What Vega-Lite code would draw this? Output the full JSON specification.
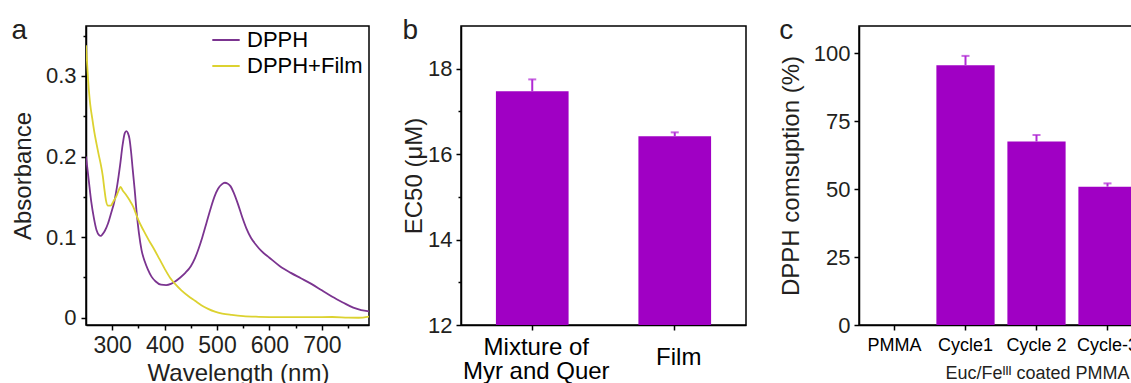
{
  "$schema": "https://vega.github.io/schema/vega-lite/v6.json",
  "padding": {"left": 10, "top": 16, "right": 0, "bottom": 0},
  "spacing": 31,
  "config": {
    "font": "Liberation Sans",
    "view": {"stroke": "#000", "strokeWidth": 1.5},
    "axis": {"domainColor": "#000", "domainWidth": 1.5, "tickColor": "#000", "tickWidth": 1.5, "tickSize": 5, "labelColor": "#231f20", "titleColor": "#231f20", "grid": false, "titleFontWeight": "normal", "labelFont": "Liberation Sans", "titleFont": "Liberation Sans"},
    "title": {"fontSize": 28, "fontWeight": "normal", "anchor": "start", "frame": "bounds", "color": "#231f20", "baseline": "alphabetic", "offset": -19}
  },
  "hconcat": [
    {
      "width": 283,
      "height": 299,
      "title": {"text": "a"},
      "data": {"values": [
        {"wl": 250, "A": 0.200, "series": "DPPH"},
        {"wl": 255, "A": 0.172, "series": "DPPH"},
        {"wl": 260, "A": 0.144, "series": "DPPH"},
        {"wl": 265, "A": 0.124, "series": "DPPH"},
        {"wl": 270, "A": 0.109, "series": "DPPH"},
        {"wl": 275, "A": 0.1025, "series": "DPPH"},
        {"wl": 278, "A": 0.1015, "series": "DPPH"},
        {"wl": 282, "A": 0.104, "series": "DPPH"},
        {"wl": 286, "A": 0.108, "series": "DPPH"},
        {"wl": 292, "A": 0.117, "series": "DPPH"},
        {"wl": 298, "A": 0.130, "series": "DPPH"},
        {"wl": 304, "A": 0.144, "series": "DPPH"},
        {"wl": 310, "A": 0.166, "series": "DPPH"},
        {"wl": 315, "A": 0.189, "series": "DPPH"},
        {"wl": 320, "A": 0.215, "series": "DPPH"},
        {"wl": 324, "A": 0.229, "series": "DPPH"},
        {"wl": 327, "A": 0.2315, "series": "DPPH"},
        {"wl": 330, "A": 0.229, "series": "DPPH"},
        {"wl": 333, "A": 0.222, "series": "DPPH"},
        {"wl": 336, "A": 0.206, "series": "DPPH"},
        {"wl": 339, "A": 0.185, "series": "DPPH"},
        {"wl": 343, "A": 0.158, "series": "DPPH"},
        {"wl": 347, "A": 0.128, "series": "DPPH"},
        {"wl": 351, "A": 0.105, "series": "DPPH"},
        {"wl": 356, "A": 0.084, "series": "DPPH"},
        {"wl": 362, "A": 0.070, "series": "DPPH"},
        {"wl": 368, "A": 0.060, "series": "DPPH"},
        {"wl": 375, "A": 0.051, "series": "DPPH"},
        {"wl": 383, "A": 0.045, "series": "DPPH"},
        {"wl": 393, "A": 0.041, "series": "DPPH"},
        {"wl": 403, "A": 0.0405, "series": "DPPH"},
        {"wl": 412, "A": 0.042, "series": "DPPH"},
        {"wl": 420, "A": 0.045, "series": "DPPH"},
        {"wl": 430, "A": 0.050, "series": "DPPH"},
        {"wl": 440, "A": 0.056, "series": "DPPH"},
        {"wl": 450, "A": 0.064, "series": "DPPH"},
        {"wl": 458, "A": 0.074, "series": "DPPH"},
        {"wl": 465, "A": 0.086, "series": "DPPH"},
        {"wl": 472, "A": 0.100, "series": "DPPH"},
        {"wl": 480, "A": 0.118, "series": "DPPH"},
        {"wl": 488, "A": 0.136, "series": "DPPH"},
        {"wl": 495, "A": 0.150, "series": "DPPH"},
        {"wl": 502, "A": 0.160, "series": "DPPH"},
        {"wl": 509, "A": 0.1655, "series": "DPPH"},
        {"wl": 515, "A": 0.1675, "series": "DPPH"},
        {"wl": 520, "A": 0.1665, "series": "DPPH"},
        {"wl": 526, "A": 0.163, "series": "DPPH"},
        {"wl": 532, "A": 0.155, "series": "DPPH"},
        {"wl": 540, "A": 0.141, "series": "DPPH"},
        {"wl": 548, "A": 0.125, "series": "DPPH"},
        {"wl": 556, "A": 0.111, "series": "DPPH"},
        {"wl": 565, "A": 0.099, "series": "DPPH"},
        {"wl": 575, "A": 0.090, "series": "DPPH"},
        {"wl": 585, "A": 0.0826, "series": "DPPH"},
        {"wl": 600, "A": 0.0745, "series": "DPPH"},
        {"wl": 620, "A": 0.064, "series": "DPPH"},
        {"wl": 640, "A": 0.056, "series": "DPPH"},
        {"wl": 660, "A": 0.049, "series": "DPPH"},
        {"wl": 680, "A": 0.042, "series": "DPPH"},
        {"wl": 700, "A": 0.034, "series": "DPPH"},
        {"wl": 720, "A": 0.026, "series": "DPPH"},
        {"wl": 740, "A": 0.019, "series": "DPPH"},
        {"wl": 760, "A": 0.0125, "series": "DPPH"},
        {"wl": 775, "A": 0.0095, "series": "DPPH"},
        {"wl": 790, "A": 0.008, "series": "DPPH"},
        {"wl": 250, "A": 0.338, "series": "DPPH+Film"},
        {"wl": 254, "A": 0.295, "series": "DPPH+Film"},
        {"wl": 258, "A": 0.265, "series": "DPPH+Film"},
        {"wl": 262, "A": 0.247, "series": "DPPH+Film"},
        {"wl": 266, "A": 0.230, "series": "DPPH+Film"},
        {"wl": 270, "A": 0.216, "series": "DPPH+Film"},
        {"wl": 274, "A": 0.203, "series": "DPPH+Film"},
        {"wl": 278, "A": 0.191, "series": "DPPH+Film"},
        {"wl": 282, "A": 0.176, "series": "DPPH+Film"},
        {"wl": 285, "A": 0.160, "series": "DPPH+Film"},
        {"wl": 288, "A": 0.146, "series": "DPPH+Film"},
        {"wl": 292, "A": 0.139, "series": "DPPH+Film"},
        {"wl": 297, "A": 0.139, "series": "DPPH+Film"},
        {"wl": 302, "A": 0.144, "series": "DPPH+Film"},
        {"wl": 308, "A": 0.151, "series": "DPPH+Film"},
        {"wl": 313, "A": 0.159, "series": "DPPH+Film"},
        {"wl": 316, "A": 0.1625, "series": "DPPH+Film"},
        {"wl": 320, "A": 0.158, "series": "DPPH+Film"},
        {"wl": 326, "A": 0.153, "series": "DPPH+Film"},
        {"wl": 333, "A": 0.146, "series": "DPPH+Film"},
        {"wl": 340, "A": 0.138, "series": "DPPH+Film"},
        {"wl": 350, "A": 0.121, "series": "DPPH+Film"},
        {"wl": 360, "A": 0.108, "series": "DPPH+Film"},
        {"wl": 370, "A": 0.096, "series": "DPPH+Film"},
        {"wl": 380, "A": 0.085, "series": "DPPH+Film"},
        {"wl": 390, "A": 0.073, "series": "DPPH+Film"},
        {"wl": 400, "A": 0.061, "series": "DPPH+Film"},
        {"wl": 410, "A": 0.050, "series": "DPPH+Film"},
        {"wl": 420, "A": 0.042, "series": "DPPH+Film"},
        {"wl": 432, "A": 0.034, "series": "DPPH+Film"},
        {"wl": 445, "A": 0.027, "series": "DPPH+Film"},
        {"wl": 458, "A": 0.021, "series": "DPPH+Film"},
        {"wl": 470, "A": 0.0155, "series": "DPPH+Film"},
        {"wl": 483, "A": 0.011, "series": "DPPH+Film"},
        {"wl": 496, "A": 0.0075, "series": "DPPH+Film"},
        {"wl": 510, "A": 0.0052, "series": "DPPH+Film"},
        {"wl": 528, "A": 0.0035, "series": "DPPH+Film"},
        {"wl": 550, "A": 0.002, "series": "DPPH+Film"},
        {"wl": 580, "A": 0.0012, "series": "DPPH+Film"},
        {"wl": 620, "A": 0.0008, "series": "DPPH+Film"},
        {"wl": 680, "A": 0.0008, "series": "DPPH+Film"},
        {"wl": 720, "A": 0.0009, "series": "DPPH+Film"},
        {"wl": 750, "A": 0.0002, "series": "DPPH+Film"},
        {"wl": 770, "A": 0.0, "series": "DPPH+Film"},
        {"wl": 790, "A": 0.0015, "series": "DPPH+Film"}
      ]},
      "mark": {"type": "line", "interpolate": "monotone", "strokeWidth": 1.8, "clip": true},
      "encoding": {
        "x": {"field": "wl", "type": "quantitative", "scale": {"domain": [250, 790], "nice": false, "zero": false},
          "axis": {"values": [300, 350, 400, 450, 500, 550, 600, 650, 700, 750], "labelExpr": "datum.value % 100 == 0 ? datum.label : ''",
            "tickSize": {"condition": {"test": "datum.value % 100 != 0", "value": 3}, "value": 5},
            "title": "Wavelength (nm)", "labelFontSize": 23, "titleFontSize": 24, "labelPadding": 4, "titlePadding": 4, "titleX": 152}},
        "y": {"field": "A", "type": "quantitative", "scale": {"domain": [-0.009, 0.362], "nice": false},
          "axis": {"values": [0, 0.05, 0.1, 0.15, 0.2, 0.25, 0.3, 0.35], "format": "~g", "labelExpr": "round(datum.value * 100) % 10 == 0 ? datum.label : ''",
            "tickSize": {"condition": {"test": "round(datum.value * 100) % 10 != 0", "value": 3}, "value": 5},
            "title": "Absorbance", "labelFontSize": 22, "titleFontSize": 24, "labelPadding": 5, "titlePadding": 10}},
        "color": {"field": "series", "type": "nominal",
          "scale": {"domain": ["DPPH", "DPPH+Film"], "range": ["#7b3490", "#dcd230"]},
          "legend": {"title": null, "orient": "none", "legendX": 125, "legendY": -1, "padding": 0, "labelFontSize": 22, "labelColor": "#000", "symbolType": "stroke", "symbolSize": 750, "symbolStrokeWidth": 2, "rowPadding": -5, "labelOffset": 6}}
      }
    },
    {
      "width": 285,
      "height": 299,
      "title": {"text": "b"},
      "data": {"values": [
        {"cat": "Mixture of|Myr and Quer", "v": 17.47, "hi": 17.75},
        {"cat": "Film", "v": 16.42, "hi": 16.51}
      ]},
      "encoding": {
        "x": {"field": "cat", "type": "nominal", "sort": null,
          "scale": {"paddingInner": 0.49, "paddingOuter": 0.245},
          "axis": {"title": null, "labelAngle": 0, "labelExpr": "split(datum.label, '|')", "labelFontSize": 24, "labelLineHeight": 24, "labelBaseline": "middle",
            "labelPadding": {"condition": {"test": "datum.value === 'Film'", "value": 27}, "value": 17},
            "labelOffset": 4, "labelColor": "#000"}}
      },
      "layer": [
        {
          "mark": {"type": "bar", "color": "#a000c4", "clip": true},
          "encoding": {
            "y": {"field": "v", "type": "quantitative", "scale": {"domain": [12, 19], "nice": false, "zero": false},
              "axis": {"values": [12, 13, 14, 15, 16, 17, 18], "labelExpr": "datum.value % 2 == 0 ? datum.label : ''",
                "tickSize": {"condition": {"test": "datum.value % 2 != 0", "value": 3}, "value": 5},
                "title": "EC50 (μM)", "labelFontSize": 22, "titleFontSize": 24, "labelPadding": 4, "titlePadding": 1}},
            "y2": {"datum": 12}
          }
        },
        {
          "mark": {"type": "rule", "color": "#b02ad4", "strokeWidth": 2},
          "encoding": {"y": {"field": "v", "type": "quantitative"}, "y2": {"field": "hi"}}
        },
        {
          "mark": {"type": "tick", "color": "#b02ad4", "thickness": 2, "size": 8, "orient": "horizontal"},
          "encoding": {"y": {"field": "hi", "type": "quantitative"}}
        }
      ]
    },
    {
      "width": 284,
      "height": 299,
      "title": {"text": "c"},
      "data": {"values": [
        {"cat": "PMMA", "v": 0},
        {"cat": "Cycle1", "v": 95.6, "hi": 99.0},
        {"cat": "Cycle 2", "v": 67.5, "hi": 69.9},
        {"cat": "Cycle-3", "v": 50.9, "hi": 52.1}
      ]},
      "encoding": {
        "x": {"field": "cat", "type": "nominal", "sort": null,
          "scale": {"paddingInner": 0.18, "paddingOuter": 0.09},
          "axis": {"title": "Euc/Feᴵᴵᴵ coated PMMA", "titleX": 178, "labelAngle": 0, "labelFontSize": 18, "titleFontSize": 18, "labelPadding": 6, "titlePadding": 10, "labelColor": "#000"}}
      },
      "layer": [
        {
          "mark": {"type": "bar", "color": "#a000c4"},
          "encoding": {
            "y": {"field": "v", "type": "quantitative", "scale": {"domain": [0, 110], "nice": false},
              "axis": {"values": [0, 12.5, 25, 37.5, 50, 62.5, 75, 87.5, 100], "labelExpr": "datum.value % 25 == 0 ? datum.label : ''",
                "tickSize": {"condition": {"test": "datum.value % 25 != 0", "value": 3}, "value": 5},
                "title": "DPPH comsuption (%)", "labelFontSize": 22, "titleFontSize": 24, "labelPadding": 4, "titlePadding": 10}}
          }
        },
        {
          "mark": {"type": "rule", "color": "#b02ad4", "strokeWidth": 2},
          "encoding": {"y": {"field": "v", "type": "quantitative"}, "y2": {"field": "hi"}}
        },
        {
          "mark": {"type": "tick", "color": "#b02ad4", "thickness": 2, "size": 8, "orient": "horizontal"},
          "encoding": {"y": {"field": "hi", "type": "quantitative"}}
        }
      ]
    }
  ]
}
